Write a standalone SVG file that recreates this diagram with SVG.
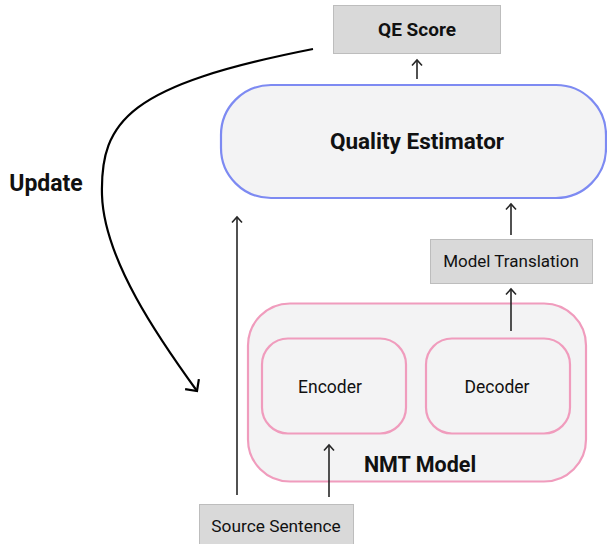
<svg xmlns="http://www.w3.org/2000/svg" width="607" height="544" viewBox="0 0 607 544">
  <style>
    .gray { fill: #d9d9d9; stroke: #bdbdbd; stroke-width: 1; }
    .panel { fill: #f3f3f4; }
    .qe { stroke: #7d8af2; stroke-width: 2.2; }
    .nmt { stroke: #f09cbd; stroke-width: 2.2; }
    .lbl { font-family: Roboto, "Liberation Sans", sans-serif; fill: #111; text-anchor: middle; }
    .bold { font-weight: bold; }
    .link { fill: none; stroke: #262626; stroke-width: 1.6; marker-end: url(#tip); }
  </style>
  <defs>
    <marker id="tip" markerUnits="userSpaceOnUse" markerWidth="14" markerHeight="14" refX="7" refY="7" orient="auto" overflow="visible">
      <path d="M 1.5 2 L 7 7 L 1.5 12" fill="none" stroke="#262626" stroke-width="1.6"/>
    </marker>
    <marker id="bigtip" markerUnits="userSpaceOnUse" markerWidth="20" markerHeight="20" refX="10" refY="10" orient="auto" overflow="visible">
      <path d="M 1.5 1.5 L 10 10 L 1.5 18.5" fill="none" stroke="#000" stroke-width="2.2"/>
    </marker>
  </defs>

  <text class="lbl bold" x="46" y="191" font-size="23">Update</text>

  <g id="qe-score">
    <rect class="gray" x="333.5" y="5.5" width="167" height="48"/>
    <text class="lbl bold" x="417" y="36" font-size="19">QE Score</text>
  </g>

  <g id="quality-estimator">
    <rect class="panel qe" x="221" y="85" width="385" height="113" rx="50"/>
    <text class="lbl bold" x="417" y="149" font-size="22.5">Quality Estimator</text>
  </g>

  <g id="model-translation">
    <rect class="gray" x="430.5" y="239.5" width="162" height="44"/>
    <text class="lbl" x="511" y="267" font-size="17">Model Translation</text>
  </g>

  <g id="nmt-model">
    <rect class="panel nmt" x="248" y="303.5" width="338" height="178" rx="42"/>
    <text class="lbl bold" x="420" y="472" font-size="21.5">NMT Model</text>
  </g>

  <g id="encoder">
    <rect class="panel nmt" x="262" y="338.5" width="144" height="95" rx="26"/>
    <text class="lbl" x="330" y="393" font-size="17.5">Encoder</text>
  </g>

  <g id="decoder">
    <rect class="panel nmt" x="426" y="338.5" width="144" height="95" rx="26"/>
    <text class="lbl" x="497" y="393" font-size="17.5">Decoder</text>
  </g>

  <g id="source-sentence">
    <rect class="gray" x="199.5" y="504.5" width="154" height="44"/>
    <text class="lbl" x="276" y="532" font-size="17.3">Source Sentence</text>
  </g>

  <!-- connectors, drawn last so they sit on top of the panels -->
  <g id="connectors">
    <path class="link" d="M 417 79 L 417 60"/>
    <path class="link" d="M 511 235 L 511 204"/>
    <path class="link" d="M 511 331 L 511 289"/>
    <path class="link" d="M 329 497 L 329 445"/>
    <path class="link" d="M 237 495 L 237 217"/>
    <path d="M 313 49 C 130 85, 100 120, 102 195 C 104 260, 160 340, 197 391" fill="none" stroke="#000" stroke-width="2.2" marker-end="url(#bigtip)"/>
  </g>
</svg>
